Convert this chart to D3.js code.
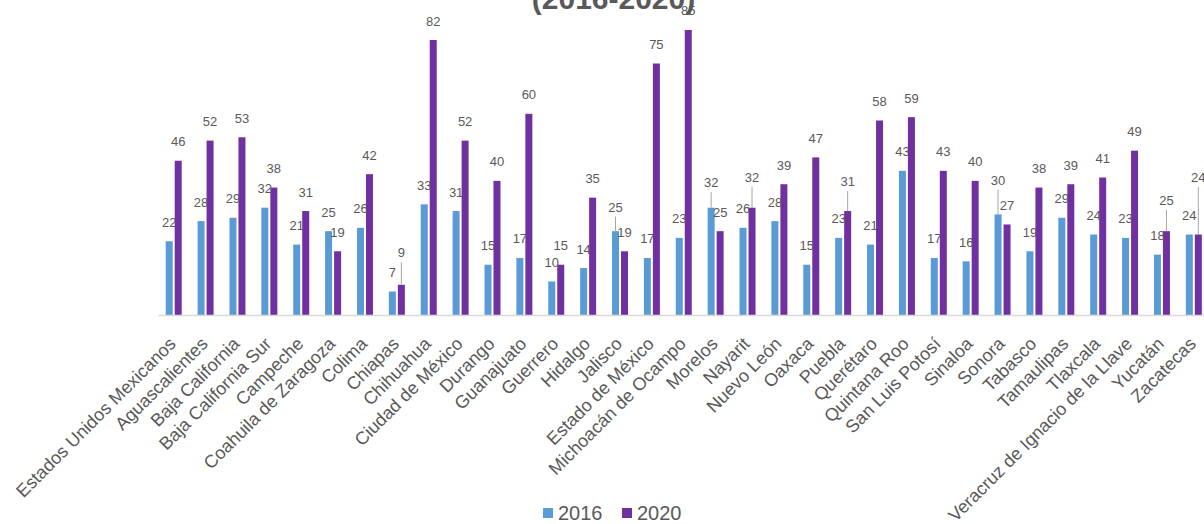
<!DOCTYPE html>
<html>
<head>
<meta charset="utf-8">
<script src="https://cdn.jsdelivr.net/npm/d3@7"></script>
<style>
  html, body { margin: 0; padding: 0; background: #ffffff; }
  svg { display: block; }
  text { font-family: "Liberation Sans", Arial, sans-serif; }
</style>
</head>
<body>
<svg id="chart" width="1204" height="524"></svg>
<script>
// ---------------- data ----------------
const categories = [
  "Estados Unidos Mexicanos", "Aguascalientes", "Baja California", "Baja California Sur",
  "Campeche", "Coahuila de Zaragoza", "Colima", "Chiapas", "Chihuahua", "Ciudad de México",
  "Durango", "Guanajuato", "Guerrero", "Hidalgo", "Jalisco", "Estado de México",
  "Michoacán de Ocampo", "Morelos", "Nayarit", "Nuevo León", "Oaxaca", "Puebla",
  "Querétaro", "Quintana Roo", "San Luis Potosí", "Sinaloa", "Sonora", "Tabasco",
  "Tamaulipas", "Tlaxcala", "Veracruz de Ignacio de la Llave", "Yucatán", "Zacatecas"
];
const values2016 = [22, 28, 29, 32, 21, 25, 26, 7, 33, 31, 15, 17, 10, 14, 25, 17, 23, 32, 26, 28, 15, 23, 21, 43, 17, 16, 30, 19, 29, 24, 23, 18, 24];
const values2020 = [46, 52, 53, 38, 31, 19, 42, 9, 82, 52, 40, 60, 15, 35, 19, 75, 85, 25, 32, 39, 47, 31, 58, 59, 43, 40, 27, 38, 39, 41, 49, 25, 24];
const seriesNames = ["2016", "2020"];
const titleText = "(2016-2020)";
const yMax = 90;

// ---------------- layout / style ----------------
const W = 1204, H = 524;
const baseY = 315, topY = 13.2;
const xStart = 158, xEnd = 1210;
const colors = { "2016": "#5B9BD5", "2020": "#7030A0" };
const textGray = "#595959";
// labels that Excel moved up, drawn with a leader line (extra lift in px)
const labelLift = {
  "2020|Chiapas": 13,
  "2016|Jalisco": 5,
  "2016|Morelos": 6,
  "2020|Nayarit": 11.5,
  "2020|Puebla": 10.5,
  "2016|Sonora": 15,
  "2020|Yucatán": 11.7,
  "2020|Zacatecas": 38
};

const svg = d3.select("#chart");

const x0 = d3.scaleBand().domain(categories).range([xStart, xEnd]).paddingInner(0).paddingOuter(0);
const bw = x0.bandwidth();
const x1 = d3.scaleBand().domain(seriesNames)
  .range([bw * 0.2416, bw * 0.7435]).paddingInner(0.222).paddingOuter(0);
const y = d3.scaleLinear().domain([0, yMax]).range([baseY, topY]);

const rows = categories.map((c, i) => ({
  cat: c,
  vals: [
    { s: "2016", v: values2016[i] },
    { s: "2020", v: values2020[i] }
  ]
}));

// title (partially cut at top in reference)
svg.append("text")
  .attr("x", 613.5).attr("y", 9)
  .attr("text-anchor", "middle")
  .attr("font-size", 30).attr("font-weight", "bold")
  .attr("fill", "#595959")
  .text(titleText);

// bars
const groups = svg.append("g").selectAll("g")
  .data(rows).join("g")
  .attr("transform", d => `translate(${x0(d.cat)},0)`);

groups.selectAll("rect")
  .data(d => d.vals).join("rect")
  .attr("x", d => x1(d.s))
  .attr("width", x1.bandwidth())
  .attr("y", d => y(d.v))
  .attr("height", d => baseY - y(d.v))
  .attr("fill", d => colors[d.s]);

// x axis
const axis = svg.append("g")
  .attr("transform", `translate(0,${baseY})`)
  .call(d3.axisBottom(x0).tickSize(0).tickPadding(0));
axis.select(".domain").attr("stroke", "#d9d9d9").attr("stroke-width", 1.5);
axis.selectAll(".tick text")
  .attr("x", 0).attr("y", 0).attr("dy", 0)
  .attr("transform", "translate(3,30) rotate(-45)")
  .attr("text-anchor", "end")
  .attr("font-size", 18)
  .attr("font-family", "Liberation Sans, Arial, sans-serif")
  .attr("fill", textGray);

// data labels
const labelLayer = svg.append("g");
rows.forEach(r => {
  r.vals.forEach(d => {
    const cx = x0(r.cat) + x1(d.s) + x1.bandwidth() / 2;
    const top = y(d.v);
    const lift = labelLift[d.s + "|" + r.cat] || 0;
    const base = top - 14.5 - lift;
    if (lift) {
      labelLayer.append("line")
        .attr("x1", cx).attr("x2", cx)
        .attr("y1", base + 5).attr("y2", top)
        .attr("stroke", "#a6a6a6").attr("stroke-width", 1);
    }
    labelLayer.append("text")
      .attr("x", cx).attr("y", base)
      .attr("text-anchor", "middle")
      .attr("font-size", 13)
      .attr("fill", textGray)
      .text(d.v);
  });
});

// legend
const legend = svg.append("g");
const legendItems = [
  { s: "2016", sx: 543, tx: 558 },
  { s: "2020", sx: 622, tx: 637 }
];
legendItems.forEach(it => {
  legend.append("rect")
    .attr("x", it.sx).attr("y", 508).attr("width", 10).attr("height", 10)
    .attr("fill", colors[it.s]);
  legend.append("text")
    .attr("x", it.tx).attr("y", 520)
    .attr("font-size", 20)
    .attr("fill", textGray)
    .text(it.s);
});
</script>
</body>
</html>
